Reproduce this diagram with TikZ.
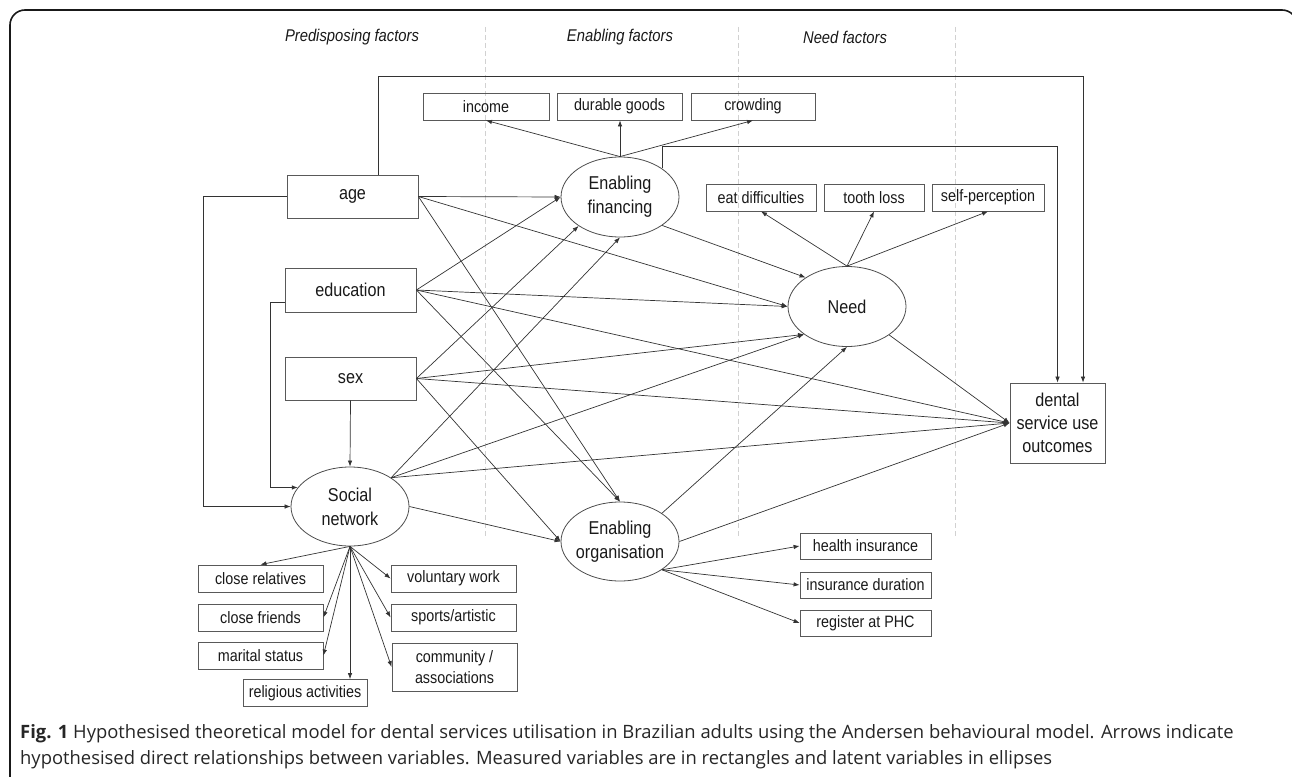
\documentclass[tikz,border=0pt]{standalone}
\usepackage{fontspec}
\setmainfont{Liberation Sans}
\newfontfamily\dfont[FakeStretch=0.87]{Liberation Sans}
\newfontfamily\capfont{Open Sans}
\usetikzlibrary{arrows.meta,shapes.geometric}
\begin{document}
\begin{tikzpicture}[x=1pt,y=-1pt,
  bigbox/.style={draw=black!65, line width=0.8pt, inner sep=0pt, minimum width=131pt, minimum height=43pt, text=black!90, font=\dfont\fontsize{18.6}{23}\selectfont},
  smallbox/.style={draw=black!65, line width=0.8pt, inner sep=0pt, minimum height=27pt, text=black!90, font=\dfont\fontsize{16.5}{20}\selectfont},
  latent/.style={ellipse, draw=black!70, line width=0.8pt, inner sep=-8pt, minimum width=118pt, minimum height=80pt, align=center, text=black!90, font=\dfont\fontsize{18.6}{24}\selectfont},
  arr/.style={draw=black!80, line width=0.7pt, -{Latex[length=6pt,width=4.5pt]}},
  colsep/.style={draw=black!18, dash pattern=on 5pt off 3pt, line width=0.6pt},
  header/.style={text=black!90, font=\dfont\itshape\fontsize{17}{20}\selectfont},
  capstyle/.style={anchor=west, inner sep=0pt, text=black!85, font=\capfont\fontsize{18.4}{22}\selectfont},
]
\useasboundingbox (0,0) rectangle (1292,776);
% frame
\draw[line width=1.6pt, black!90, rounded corners=15pt] (10,790) -- (10,10) -- (1297,10) -- (1297,60);
% column separators
\draw[colsep] (485,27) -- (485,537);
\draw[colsep] (738,27) -- (738,537);
\draw[colsep] (955,27) -- (955,537);
% headers
\node[header] (h1) at (352,37) {Predisposing factors};
\node[header] (h2) at (620,37) {Enabling factors};
\node[header] (h3) at (845,37) {Need factors};

% measured predisposing
\node[bigbox] (age) at (352.5,196.5) {age};
\node[bigbox, minimum height=44pt] (edu) at (350.5,290) {education};
\node[bigbox] (sex) at (350.5,378.5) {sex};
% latent
\node[latent] (EF) at (620,197) {Enabling\\financing};
\node[latent] (Need) at (847,306.5) {Need};
\node[latent, minimum height=79pt] (Org) at (620,541.5) {Enabling\\organisation};
\node[latent, minimum height=79pt] (SN) at (350,506.5) {Social\\network};
% outcome
\node[bigbox, minimum width=95pt, minimum height=80pt, align=center] (out) at (1057.5,423) {dental\\service use\\outcomes};
% financing indicators
\node[smallbox, minimum width=126pt] (inc) at (486,106.5) {income};
\node[smallbox, minimum width=125pt] (dg) at (619.5,106.5) {durable goods};
\node[smallbox, minimum width=124pt] (crw) at (753,106.5) {crowding};
% need indicators
\node[smallbox, minimum width=110pt] (eat) at (761,197.5) {eat difficulties};
\node[smallbox, minimum width=100pt] (tl) at (874,197.5) {tooth loss};
\node[smallbox, minimum width=112pt] (sp) at (988,197.5) {self-perception};
% organisation indicators
\node[smallbox, minimum width=131pt, minimum height=26pt] (hi) at (865.5,546) {health insurance};
\node[smallbox, minimum width=131pt, minimum height=26pt] (idur) at (865.5,585) {insurance duration};
\node[smallbox, minimum width=131pt, minimum height=26pt] (rp) at (865.5,623) {register at PHC};
% social network indicators
\node[smallbox, minimum width=125pt] (cr) at (260.5,578.5) {close relatives};
\node[smallbox, minimum width=125pt] (cf) at (260.5,617.5) {close friends};
\node[smallbox, minimum width=125pt] (ms) at (260.5,655.5) {marital status};
\node[smallbox, minimum width=124pt] (ra) at (305,693) {religious activities};
\node[smallbox, minimum width=125pt] (vw) at (453.5,578.5) {voluntary work};
\node[smallbox, minimum width=125pt] (sa) at (453.5,617.5) {sports/artistic};
\node[smallbox, minimum width=125pt, minimum height=48pt, align=center, font=\dfont\fontsize{16.5}{20.5}\selectfont] (ca) at (454.5,667) {community /\\associations};

% age
\draw[arr] (age.east) -- (EF.west);
\draw[arr] (age.east) -- (Need.west);
\draw[arr] (age.east) -- (Org.north);
\draw[arr] (age.west) -- (203,196.5) |- (SN.west);
\draw[arr] ([xshift=25.5pt]age.north) -- (378,76) -| ([xshift=25.5pt]out.north);
% education
\draw[arr] (edu.east) -- (EF.west);
\draw[arr] (edu.east) -- (Need.west);
\draw[arr] (edu.east) -- (out.west);
\draw[arr] (edu.east) -- (Org.north);
\draw[arr] ([yshift=-12.7pt]edu.west) -- (270,302.7) |- (SN.160.5);
% sex
\draw[arr] (sex.east) -- (EF.215);
\draw[arr] (sex.east) -- (Need.213);
\draw[arr] (sex.east) -- (out.west);
\draw[arr] (sex.east) -- (Org.west);
\draw[arr] (sex.south) -- (SN.north);
% social network
\draw[arr] (SN.35) -- (EF.south);
\draw[arr] (SN.35) -- (Need.213);
\draw[arr] (SN.35) -- (out.west);
\draw[arr] (SN.east) -- (Org.west);
\draw[arr] (SN.south) -- (cr.north);
\draw[arr] (SN.south) -- (cf.east);
\draw[arr] (SN.south) -- (ms.east);
\draw[arr] (SN.south) -- (ra.north -| SN.south);
\draw[arr] (SN.south) -- (vw.west);
\draw[arr] (SN.south) -- (sa.west);
\draw[arr] (SN.south) -- (ca.west);
% enabling financing
\draw[arr] (EF.north) -- (inc.south);
\draw[arr] (EF.north) -- (EF.north |- dg.south);
\draw[arr] (EF.north) -- (crw.south);
\draw[arr] (EF.-34) -- (Need.145);
\draw[arr] (EF.north east) -- (EF.north east |- 0,146) -| (out.north);
% need
\draw[arr] (Need.north) -- (eat.south);
\draw[arr] (Need.north) -- (tl.south);
\draw[arr] (Need.north) -- (sp.south);
\draw[arr] (Need.-34) -- (out.west);
% enabling organisation
\draw[arr] (Org.34) -- (Need.south);
\draw[arr] (Org.east) -- (out.west);
\draw[arr] (Org.-34) -- (hi.west);
\draw[arr] (Org.-34) -- (idur.west);
\draw[arr] (Org.-34) -- (rp.west);

% caption
\node[capstyle] (cap1) at (20,734) {\textbf{Fig. 1} Hypothesised theoretical model for dental services utilisation in Brazilian adults using the Andersen behavioural model. Arrows indicate};
\node[capstyle] (cap2) at (20,760) {hypothesised direct relationships between variables. Measured variables are in rectangles and latent variables in ellipses};
\end{tikzpicture}
\end{document}
